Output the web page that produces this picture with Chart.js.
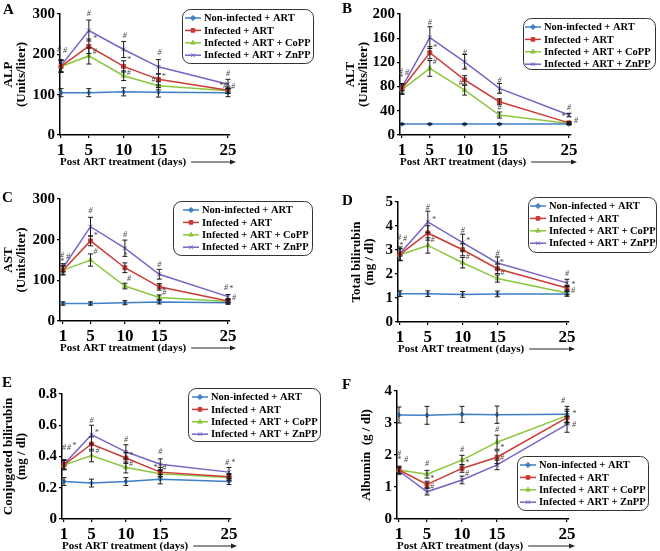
<!DOCTYPE html>
<html>
<head>
<meta charset="utf-8">
<script src="https://cdn.jsdelivr.net/npm/chart.js@4.4.0/dist/chart.umd.min.js"></script>
<style>
    html, body { margin: 0; padding: 0; background: #fff; }
    #fig { position: relative; width: 660px; height: 551px; }
    #fig canvas { position: absolute; }
</style>
</head>
<body>
<div id="fig">
    <canvas id="panelA" width="330" height="184" style="left:0;top:0"></canvas>
    <canvas id="panelB" width="330" height="184" style="left:330px;top:0"></canvas>
    <canvas id="panelC" width="330" height="184" style="left:0;top:184px"></canvas>
    <canvas id="panelD" width="330" height="184" style="left:330px;top:184px"></canvas>
    <canvas id="panelE" width="330" height="183" style="left:0;top:368px"></canvas>
    <canvas id="panelF" width="330" height="183" style="left:330px;top:368px"></canvas>
</div>
<script>
const days = [1, 5, 10, 15, 25];
const groupNames = ['Non-infected + ART', 'Infected + ART', 'Infected + ART + CoPP', 'Infected + ART + ZnPP'];

// rows: non-infected, infected, CoPP, ZnPP
const alpMeans = [
    [105, 105, 107, 106, 105],
    [170, 220, 170, 138, 111],
    [170, 196, 147, 122, 110],
    [172, 259, 212, 169, 126]
];
const alpErrors = [
    [10, 10, 10, 12, 10],
    [15, 18, 14, 14, 8],
    [14, 20, 12, 10, 6],
    [15, 26, 20, 18, 12]
];

const altMeans = [
    [18, 18, 18, 18, 18],
    [77, 136, 91, 55, 20],
    [75, 110, 74, 33, 19],
    [79, 161, 121, 77, 33]
];
const altErrors = [
    [1, 1, 1, 1, 1],
    [8, 10, 7, 5, 2],
    [8, 13, 8, 5, 2],
    [6, 18, 12, 8, 3]
];

const astMeans = [
    [43, 43, 45, 47, 45],
    [125, 197, 131, 84, 49],
    [125, 150, 86, 58, 48],
    [131, 232, 179, 115, 60]
];
const astErrors = [
    [4, 4, 5, 5, 4],
    [10, 12, 12, 8, 4],
    [12, 15, 7, 6, 4],
    [10, 23, 20, 12, 5]
];

const tbilMeans = [
    [1.18, 1.18, 1.15, 1.17, 1.17],
    [2.82, 3.71, 3.01, 2.22, 1.42],
    [2.8, 3.19, 2.47, 1.81, 1.21],
    [2.85, 4.17, 3.31, 2.46, 1.63]
];
const tbilErrors = [
    [0.12, 0.12, 0.12, 0.12, 0.1],
    [0.25, 0.3, 0.25, 0.2, 0.1],
    [0.25, 0.32, 0.22, 0.15, 0.08],
    [0.28, 0.45, 0.35, 0.25, 0.15]
];

const cbilMeans = [
    [0.24, 0.23, 0.24, 0.255, 0.24],
    [0.347, 0.48, 0.39, 0.30, 0.27],
    [0.345, 0.406, 0.33, 0.29, 0.265],
    [0.35, 0.54, 0.43, 0.35, 0.30]
];
const cbilErrors = [
    [0.025, 0.025, 0.025, 0.03, 0.02],
    [0.03, 0.045, 0.035, 0.03, 0.02],
    [0.03, 0.04, 0.035, 0.02, 0.02],
    [0.03, 0.06, 0.045, 0.035, 0.03]
];

const albMeans = [
    [3.25, 3.24, 3.27, 3.26, 3.27],
    [1.53, 1.08, 1.58, 1.93, 3.17],
    [1.53, 1.40, 1.84, 2.40, 3.23],
    [1.50, 0.85, 1.22, 1.69, 2.96]
];
const albErrors = [
    [0.25, 0.28, 0.25, 0.27, 0.25],
    [0.1, 0.1, 0.12, 0.2, 0.2],
    [0.12, 0.12, 0.15, 0.22, 0.2],
    [0.1, 0.1, 0.12, 0.15, 0.25]
];

// significance marks: [series, day index, symbol, dx, dy]
const alpMarks = [
    [3, 0, '#', -2, -16], [3, 0, '#', 4, -15], [3, 0, '*', -2, -9],
    [3, 1, '#', 0, -17], [1, 1, '*', 6, -7], [2, 1, '#', 6, -4],
    [3, 2, '#', 1, -14], [1, 2, '*', 5, -7], [2, 2, '#', 5, -3],
    [3, 3, '#', 1, -14], [1, 3, '*', 5, -2], [2, 3, '#', -5, -6],
    [3, 4, '#', 0, -10], [1, 4, '*', -7, -4], [1, 4, '#', -3, -4], [2, 4, '#', 5, -4]
];
const altMarks = [
    [3, 0, '#', -1, -15], [3, 0, '#', 5, -14], [3, 0, '*', -1, -9],
    [3, 1, '#', 0, -15], [1, 1, '*', 5, -5], [2, 1, '#', 5, -7],
    [3, 2, '#', 0, -9], [1, 2, '*', 0, -10], [2, 2, '#', -4, -7],
    [3, 3, '#', 0, -8], [1, 3, '*', 0, -7], [2, 3, '#', 0, -7],
    [3, 4, '#', 0, -7], [3, 4, '*', -6, 2], [2, 4, '#', 7, -3]
];
const astMarks = [
    [3, 0, '#', -1, -12], [3, 0, '#', 5, -11], [3, 0, '*', -1, -6],
    [3, 1, '#', 0, -16], [1, 1, '*', 5, -5], [2, 1, '#', 5, -8],
    [3, 2, '#', 0, -13], [3, 2, '*', 0, 8], [2, 2, '#', 4, -7],
    [3, 3, '#', 0, -9], [1, 3, '*', 4, 4], [2, 3, '#', 5, -5],
    [3, 4, '#', -2, -9], [3, 4, '*', 3, -8], [1, 4, '#', 6, -3]
];
const tbilMarks = [
    [3, 0, '#', -1, -16], [3, 0, '#', 5, -15], [3, 0, '*', 1, -8],
    [3, 1, '#', 0, -14], [3, 1, '*', 6, -2], [2, 1, '#', 5, -6],
    [3, 2, '#', 0, -12], [3, 2, '*', 5, -2], [2, 2, '#', 5, -6],
    [3, 3, '#', 0, -9], [3, 3, '*', 4, 0], [2, 3, '#', 5, -6],
    [3, 4, '#', 0, -9], [1, 4, '*', 6, -3], [2, 4, '#', 6, -2]
];
const cbilMarks = [
    [3, 0, '#', 0, -16], [3, 0, '#', 5, -16], [3, 0, '*', 10, -18],
    [3, 1, '#', 0, -14], [3, 1, '*', 5, -2], [1, 1, '#', 6, 7],
    [3, 2, '#', 0, -12], [1, 2, '*', 5, -2], [2, 2, '#', 5, -4],
    [3, 3, '#', 0, -12], [1, 3, '*', -5, -4], [1, 3, '#', 4, -4],
    [3, 4, '#', -2, -9], [3, 4, '*', 4, -9]
];
const albMarks = [
    [2, 0, '#', 0, -16], [2, 0, '*', 0, -10], [2, 0, '#', 7, -10],
    [2, 1, '#', 0, -10], [1, 1, '*', 5, -6], [3, 1, '#', 5, -5],
    [2, 2, '#', 0, -10], [1, 2, '*', 5, -6], [3, 2, '#', 5, -6],
    [2, 3, '#', 0, -12], [1, 3, '*', 5, -9], [3, 3, '#', 5, -7],
    [0, 4, '#', -4, -13], [2, 4, '*', 7, -2], [3, 4, '#', 7, 1]
];

const groupColors = ['#3f7fc6', '#cc3b35', '#8cc63e', '#7b63c4'];
const groupPoints = ['rectRot', 'rect', 'triangle', 'crossRot'];
const FONT = "'Liberation Serif', 'Times New Roman', serif";

const panels = [
    { id: 'panelA', letter: 'A', letterPos: [3, 3], yTitle: ['ALP', '(Units/liter)'], titlePad: 2,
      means: alpMeans, errors: alpErrors, marks: alpMarks, yMax: 300, yStep: 50,
      area: { left: 60, x1: 61, x25: 228, right: 230, top: 14, bottom: 135 },
      legend: { x: 182, y: 9, w: 131, h: 54, lx: 3 } },
    { id: 'panelB', letter: 'B', letterPos: [12, 2], yTitle: ['ALT', '(Units/liter)'], titlePad: 14,
      means: altMeans, errors: altErrors, marks: altMarks, yMax: 200, yStep: 40,
      area: { left: 70, x1: 72, x25: 239, right: 241, top: 14, bottom: 135 },
      legend: { x: 193, y: 18, w: 132, h: 51, lx: 2 } },
    { id: 'panelC', letter: 'C', letterPos: [2, 7], yTitle: ['AST', '(Units/liter)'], titlePad: 2,
      means: astMeans, errors: astErrors, marks: astMarks, yMax: 300, yStep: 50,
      area: { left: 60, x1: 63, x25: 228, right: 230, top: 15, bottom: 137 },
      legend: { x: 173, y: 17, w: 139, h: 54, lx: 10 } },
    { id: 'panelD', letter: 'D', letterPos: [12, 10], yTitle: ['Total bilirubin', '(mg / dl)'], titlePad: 20,
      means: tbilMeans, errors: tbilErrors, marks: tbilMarks, yMax: 5, yStep: 1,
      area: { left: 68, x1: 70, x25: 237, right: 239, top: 18, bottom: 138 },
      legend: { x: 198, y: 13, w: 128, h: 55, lx: 2 } },
    { id: 'panelE', letter: 'E', letterPos: [2, 8], yTitle: ['Conjugated bilirubin', '(mg / dl)'], titlePad: 2,
      means: cbilMeans, errors: cbilErrors, marks: cbilMarks, yMax: 0.8, yStep: 0.2,
      area: { left: 62, x1: 64, x25: 229, right: 231, top: 26, bottom: 151 },
      legend: { x: 188, y: 20, w: 132, h: 53, lx: 4 } },
    { id: 'panelF', letter: 'F', letterPos: [12, 10], yTitle: 'Albumin  (g / dl)', titlePad: 30,
      means: albMeans, errors: albErrors, marks: albMarks, yMax: 4, yStep: 1,
      area: { left: 67, x1: 69, x25: 237, right: 239, top: 23, bottom: 151 },
      legend: { x: 187, y: 88, w: 131, h: 54, lx: 3 } }
];

const TITLE_GAP = 27;

document.addEventListener('DOMContentLoaded', function () {
    panels.forEach(criarPainel);
});

function drawMarker(ctx, style, x, y) {
    Chart.helpers.drawPoint(ctx, { pointStyle: style, radius: 2.6, borderWidth: 1 }, x, y);
}

function decoracao(p) {
    return {
        id: 'decor_' + p.id,
        afterDatasetsDraw(chart) {
            const ctx = chart.ctx;
            const yScale = chart.scales.y;
            ctx.save();
            // error bars
            ctx.strokeStyle = '#1a1a1a';
            ctx.lineWidth = 1;
            chart.data.datasets.forEach((ds, i) => {
                chart.getDatasetMeta(i).data.forEach((pt, j) => {
                    const v = p.means[i][j], e = p.errors[i][j];
                    const yTop = yScale.getPixelForValue(v + e);
                    const yBot = yScale.getPixelForValue(v - e);
                    ctx.beginPath();
                    ctx.moveTo(pt.x, yTop); ctx.lineTo(pt.x, yBot);
                    ctx.moveTo(pt.x - 2.5, yTop); ctx.lineTo(pt.x + 2.5, yTop);
                    ctx.moveTo(pt.x - 2.5, yBot); ctx.lineTo(pt.x + 2.5, yBot);
                    ctx.stroke();
                });
            });
            // significance marks
            ctx.fillStyle = '#444';
            ctx.font = 'italic 8px ' + FONT;
            ctx.textAlign = 'center';
            ctx.textBaseline = 'middle';
            p.marks.forEach(m => {
                const pt = chart.getDatasetMeta(m[0]).data[m[1]];
                ctx.fillText(m[2], pt.x + m[3], pt.y + m[4]);
            });
            ctx.restore();
        },
        afterDraw(chart) {
            const ctx = chart.ctx;
            const area = chart.chartArea;
            ctx.save();

            // panel letter
            ctx.fillStyle = '#000';
            ctx.font = 'bold 15px ' + FONT;
            ctx.textAlign = 'left';
            ctx.textBaseline = 'top';
            ctx.fillText(p.letter, p.letterPos[0], p.letterPos[1]);

            // arrow after x title
            ctx.font = 'bold 11px ' + FONT;
            const tw = ctx.measureText('Post ART treatment (days)').width;
            const ay = area.bottom + TITLE_GAP;
            const x0 = area.left + tw + 5;
            const x1 = p.area.x25 + 8;
            ctx.strokeStyle = '#222';
            ctx.fillStyle = '#222';
            ctx.lineWidth = 1;
            ctx.beginPath();
            ctx.moveTo(x0, ay); ctx.lineTo(x1 - 4, ay);
            ctx.stroke();
            ctx.beginPath();
            ctx.moveTo(x1, ay); ctx.lineTo(x1 - 6, ay - 2.5); ctx.lineTo(x1 - 6, ay + 2.5);
            ctx.closePath();
            ctx.fill();

            // legend
            const lg = p.legend;
            ctx.strokeStyle = '#333';
            ctx.lineWidth = 1;
            ctx.beginPath();
            ctx.roundRect(lg.x + 0.5, lg.y + 0.5, lg.w, lg.h, 8);
            ctx.stroke();
            ctx.font = 'bold 10.5px ' + FONT;
            ctx.textBaseline = 'middle';
            groupNames.forEach((name, i) => {
                const ry = lg.y + 9 + i * 12.4;
                ctx.strokeStyle = groupColors[i];
                ctx.fillStyle = groupColors[i];
                ctx.lineWidth = 1.5;
                ctx.beginPath();
                ctx.moveTo(lg.x + lg.lx, ry); ctx.lineTo(lg.x + lg.lx + 16, ry);
                ctx.stroke();
                ctx.lineWidth = 1;
                drawMarker(ctx, groupPoints[i], lg.x + lg.lx + 8, ry);
                ctx.fillStyle = '#000';
                ctx.fillText(name, lg.x + lg.lx + 19, ry + 0.5);
            });
            ctx.restore();
        }
    };
}

function criarPainel(p) {
    const canvas = document.getElementById(p.id);
    const W = canvas.width, H = canvas.height;
    const a = p.area;
    const pxPorDia = (a.x25 - a.x1) / 24;
    const xMin = 1 - (a.x1 - a.left) / pxPorDia;
    const xMax = 25 + (a.right - a.x25) / pxPorDia;

    const datasets = groupNames.map((name, i) => ({
        label: name,
        data: days.map((d, j) => ({ x: d, y: p.means[i][j] })),
        borderColor: groupColors[i],
        backgroundColor: groupColors[i],
        pointStyle: groupPoints[i],
        pointRadius: i === 0 ? 2.2 : 2.8,
        pointBorderWidth: 1,
        borderWidth: 1.5,
        tension: 0,
        clip: false
    }));

    new Chart(canvas, {
        type: 'line',
        data: { datasets: datasets },
        options: {
            responsive: false,
            animation: false,
            devicePixelRatio: 1,
            layout: { padding: { left: 0, top: a.top, right: W - a.right, bottom: 0 } },
            plugins: {
                legend: { display: false },
                tooltip: { enabled: false }
            },
            scales: {
                x: {
                    type: 'linear',
                    min: xMin,
                    max: xMax,
                    afterBuildTicks: s => { s.ticks = days.map(v => ({ value: v })); },
                    afterFit: s => { s.height = H - a.bottom; },
                    border: { color: '#000', width: 1.5 },
                    grid: { drawOnChartArea: false, drawTicks: true, tickLength: 3, color: '#000', lineWidth: 1.2 },
                    ticks: {
                        color: '#000',
                        padding: 2,
                        autoSkip: false,
                        maxRotation: 0,
                        font: { family: FONT, weight: 'bold', size: 17 }
                    },
                    title: {
                        display: true,
                        text: 'Post ART treatment (days)',
                        align: 'start',
                        color: '#000',
                        font: { family: FONT, weight: 'bold', size: 11, lineHeight: 1 },
                        padding: { top: 0, bottom: H - a.bottom - TITLE_GAP - 5.5 }
                    }
                },
                y: {
                    min: 0,
                    max: p.yMax,
                    afterFit: s => { s.width = a.left; },
                    border: { color: '#000', width: 1.5 },
                    grid: { drawOnChartArea: false, drawTicks: true, tickLength: 3, color: '#000', lineWidth: 1.2 },
                    ticks: {
                        stepSize: p.yStep,
                        color: '#000',
                        padding: 2,
                        font: { family: FONT, weight: 'bold', size: 15 }
                    },
                    title: {
                        display: true,
                        text: p.yTitle,
                        color: '#000',
                        font: { family: FONT, weight: 'bold', size: 13, lineHeight: 1 },
                        padding: { top: p.titlePad, bottom: 0 }
                    }
                }
            }
        },
        plugins: [decoracao(p)]
    });
}
</script>
</body>
</html>
